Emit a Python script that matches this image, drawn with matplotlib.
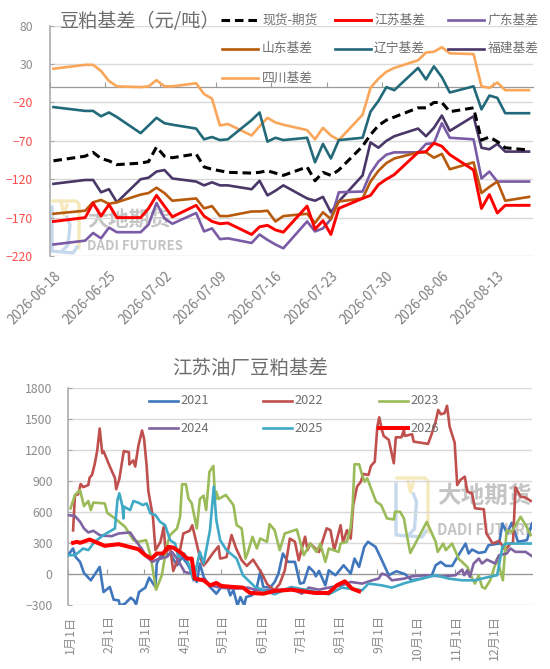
import matplotlib
matplotlib.use("Agg")
import matplotlib.pyplot as plt
import pandas as pd
from matplotlib.lines import Line2D

plt.rcParams["font.family"] = ["Noto Sans CJK SC", "DejaVu Sans"]

W, H = 550, 669
GREY = "#6E6E6E"
GRID = "#D9D9D9"
AXIS = "#A6A6A6"

# ── top chart: daily basis ────────────────────────────────
dates = pd.to_datetime([
    "2026-06-18", "2026-06-22", "2026-06-23", "2026-06-24", "2026-06-25", "2026-06-26",
    "2026-06-29", "2026-06-30", "2026-07-01", "2026-07-02", "2026-07-03",
    "2026-07-06", "2026-07-07", "2026-07-08", "2026-07-09", "2026-07-10",
    "2026-07-13", "2026-07-14", "2026-07-15", "2026-07-16", "2026-07-17",
    "2026-07-20", "2026-07-21", "2026-07-22", "2026-07-23", "2026-07-24",
    "2026-07-27", "2026-07-28", "2026-07-29", "2026-07-30", "2026-07-31",
    "2026-08-03", "2026-08-04", "2026-08-05", "2026-08-06", "2026-08-07",
    "2026-08-10", "2026-08-11", "2026-08-12", "2026-08-13", "2026-08-14",
    "2026-08-17",
])
spot = [-96, -90, -85, -93, -96, -101, -99, -97, -78, -90, -92, -87, -104, -107, -109, -111,
        -112, -111, -109, -112, -115, -104, -122, -111, -115, -108, -77, -62, -50, -43, -39,
        -27, -27, -20, -20, -32, -27, -69, -65, -71, -79, -82]
jiangsu = [-175, -170, -151, -168, -153, -170, -170, -158, -141, -155, -169, -154, -168, -175,
           -178, -177, -192, -182, -180, -186, -189, -155, -185, -174, -192, -158, -145, -141,
           -127, -120, -114, -85, -84, -73, -77, -88, -108, -158, -140, -164, -154, -154]
guangdong = [-205, -200, -190, -197, -183, -189, -189, -179, -151, -171, -178, -164, -188, -184,
             -198, -197, -203, -192, -199, -205, -210, -175, -188, -184, -172, -137, -136, -112,
             -97, -88, -85, -85, -74, -73, -47, -66, -68, -119, -110, -123, -123, -123]
shandong = [-165, -161, -150, -147, -152, -150, -140, -138, -131, -138, -148, -145, -158, -155,
            -168, -168, -162, -162, -161, -175, -168, -165, -177, -163, -172, -149, -145, -123,
            -109, -99, -93, -85, -85, -92, -87, -107, -98, -138, -130, -123, -148, -143]
liaoning = [-26, -31, -31, -38, -33, -39, -60, -50, -40, -47, -49, -54, -68, -65, -69, -68,
            -43, -33, -71, -66, -69, -66, -98, -74, -93, -69, -66, -32, -18, 0, -4, 25, 10,
            27, 13, -7, 1, -29, -11, -14, -34, -34]
fujian = [-126, -121, -121, -137, -133, -150, -120, -118, -110, -108, -119, -123, -128, -124,
          -128, -128, -133, -122, -141, -135, -128, -145, -148, -143, -163, -149, -115, -72,
          -79, -70, -64, -54, -64, -53, -37, -57, -38, -79, -81, -74, -84, -84]
sichuan = [24, 29, 29, 21, 8, 1, 0, 1, 9, 1, 1, 5, -9, -15, -50, -48, -63, -51, -40, -46, -49,
           -56, -68, -53, -63, -69, -36, -1, 11, 20, 25, 35, 45, 46, 52, 44, 43, 1, -1, 6, -4, -4]

top_yticks = [80, 30, -20, -70, -120, -170, -220]
top_labels = ["2026-06-18", "2026-06-25", "2026-07-02", "2026-07-09", "2026-07-16",
              "2026-07-23", "2026-07-30", "2026-08-06", "2026-08-13"]

# ── bottom chart: yearly basis, day of year / value ───────
days_2021 = [0, 4, 6, 9.5, 12.6, 18, 25, 28, 33, 36, 40, 41, 45, 49.5, 52, 53.7, 56, 61, 64, 69, 70,
             72.6, 80.5, 86, 90, 94, 98, 101.6, 104, 107, 112, 117, 121, 126, 128, 130.5, 133.7,
             136, 139, 140.5, 145, 149, 151.6, 154, 159.5, 163, 166, 169.5, 173.5, 179, 183, 186,
             190, 194, 195.5, 198, 203, 205.7, 211, 217.4, 223, 226, 229.6, 233.7, 236.6, 242.6,
             247.6, 253, 259, 266, 271, 279, 287, 290, 294, 298, 303, 308, 313.6, 316, 318.7,
             324, 329, 331.7, 340, 342.7, 346.3, 350, 355, 362, 366]
vals_2021 = [179, 244, 162, 114, 6, -65, 65, -179, -130, -253, -260, -309, -292, -234, -260, -300,
             -179, -136, -39, -130, 98, 163, 195, 81, 162, 98, 0, -81, 98, -32, -130, -195, -130,
             -135, -211, -162, -309, -228, -309, -228, -211, -130, 16, -130, -136, -81, 0, 195,
             114, 114, -97, -88, 65, 16, -26, 26, -114, 32, -16, 81, 0, 146, 65, 260, 309, 260,
             130, -16, 23, -6, -65, -49, -16, 81, 114, 75, 75, 179, 292, 195, 234, 201, 211, 276,
             292, 487, 390, 494, 309, 325, 487]
days_2022 = [4, 5.5, 8, 10, 12, 16, 17, 19, 21, 23, 25, 27, 28, 33, 37, 38, 40.5, 44, 48, 48.4, 51.5,
             53, 55.5, 58.4, 60, 62, 63.4, 67, 69, 73, 75.5, 77, 80.5, 83, 87, 91, 96, 98, 101.5,
             104, 107, 109.5, 115, 118.7, 120, 125, 129, 132.6, 137, 141, 146, 153, 157, 159.5,
             163, 167, 171, 175, 179, 182, 187, 189, 191, 198, 204, 207, 210, 215, 217, 220, 223,
             225, 228, 231, 233, 237, 239, 242, 244, 245.5, 247.6, 249, 253, 257, 258.6, 263, 265,
             265.6, 271.4, 272.7, 284, 286.6, 290, 292, 294, 297, 299, 301, 305, 307, 309.5, 313,
             315, 318.7, 321, 328, 330, 335, 340, 345, 349, 351, 353, 357, 361, 365]
vals_2022 = [420, 760, 770, 870, 840, 860, 930, 960, 1060, 1190, 1410, 1170, 1190, 1040, 930, 820,
             920, 1190, 1180, 1060, 1100, 1040, 1240, 1390, 1310, 1050, 800, 550, 228, 310, 455,
             195, 260, 26, 146, 390, 416, 470, 290, 160, 80, 115, 210, 265, 146, 160, 375, 245,
             130, 75, 136, 0, -100, -130, -160, -100, 32, 340, 310, 130, 358, 228, 292, 210, 440,
             422, 228, 470, 300, 422, 340, 667, 845, 893, 968, 958, 1046, 1088, 1428, 1518, 1396,
             1337, 1300, 1072, 1324, 1324, 1396, 1337, 1354, 1282, 1260, 1347, 1476, 1590, 1548,
             1558, 1630, 1428, 1272, 860, 910, 942, 796, 780, 635, 625, 390, 292, 318, 228, 292,
             300, 838, 748, 738, 706]
days_2023 = [2, 5.5, 9.5, 12.6, 16, 18, 20, 29, 31, 37, 45, 51.6, 55.5, 61.6, 65, 69.5, 74, 78, 80.5,
             86, 88.4, 90, 93, 95, 97.6, 101.6, 104, 107, 109, 111.6, 114.7, 116, 117, 118.7,
             124.5, 129, 130.5, 133, 137, 140, 142, 145.5, 149, 151.6, 157, 159, 163, 167, 171,
             180.5, 186, 191, 196, 199, 203, 205.7, 213.5, 215, 220, 223, 224.5, 226, 229.6, 232,
             234, 236, 240, 243, 247, 251.6, 257, 258, 262, 265, 267, 270, 283, 290, 291.6, 296,
             298, 303, 308, 315, 319, 321, 324, 326.6, 329, 333, 338.5, 343, 346, 350, 357, 361, 365]
vals_2023 = [634, 764, 812, 656, 705, 617, 690, 682, 590, 536, 455, 325, 309, 325, 179, -156, -16,
             276, 374, 439, 552, 868, 868, 730, 683, 439, 725, 757, 617, 990, 1046, 715, 796, 725,
             764, 690, 666, 471, 439, 146, 211, 358, 244, 341, 309, 481, 422, 228, 390, 429, 179,
             292, 211, 292, 114, 244, 211, 292, 309, 455, 650, 1062, 1062, 958, 893, 926, 796, 699,
             667, 536, 526, 601, 600, 536, 390, 200, 503, 309, 211, 292, 228, 292, 146, 65, -49,
             -97, -16, -130, -146, -65, 146, -65, 422, 406, 552, 471, 374]
days_2024 = [0, 5.5, 9.5, 12.6, 16, 20, 25, 29, 34.5, 40, 49, 54, 58, 62, 66.6, 70, 78, 82, 86, 92,
             97.6, 101.6, 107, 112, 120, 130.5, 142, 149, 163, 176, 184.5, 190, 198, 208, 216, 223,
             232, 240, 245, 247.6, 251.6, 255.5, 265, 271.4, 282, 295, 305.6, 311, 312.5, 315, 317,
             320, 324, 326.6, 330.5, 337, 340, 346, 349, 353, 361, 366]
vals_2024 = [569, 559, 504, 439, 400, 416, 374, 367, 364, 390, 400, 309, 244, 162, 114, 136, 162,
             211, 146, 16, 0, -65, -49, -114, -136, -146, -136, -162, -162, -146, -195, -136, -156,
             -130, -114, -81, -97, -65, -49, 0, -16, -65, -49, -26, -16, -26, -16, 39, -16, 32, -32,
             98, 146, 98, 136, 98, 179, 195, 244, 211, 211, 169]
days_2025 = [0, 5.5, 12, 16, 21, 28, 37, 39, 40.5, 43, 43.7, 44.2, 49, 51.6, 55.5, 59, 62, 65, 69, 72.6,
             76.6, 80.5, 84.5, 87, 91.6, 95, 99, 104, 107, 112, 115, 117, 120, 125, 133, 138, 147.6,
             163, 176, 205.6, 216, 232, 237, 247.6, 255.5, 266, 279, 290, 300.6, 311, 321, 332,
             338.5, 342.7, 345, 355.5, 365]
vals_2025 = [179, 179, 244, 228, 309, 374, 439, 715, 780, 650, 536, 650, 617, 705, 689, 666, 682,
             585, 569, 504, 471, 325, 292, 162, 195, 98, -65, 211, 98, 422, 845, 520, 325, 228,
             146, -16, -130, -201, -130, -201, -136, -162, -97, -114, -136, -91, -49, -16, -49,
             -65, -65, -32, -16, 260, 292, 292, 292]
days_2026 = [4, 7, 9.5, 17, 29, 40, 55.5, 61, 66, 70, 75, 79, 83, 90, 94, 97.6, 100, 107, 112, 117,
             121, 130.5, 138, 143.7, 154, 163, 176, 195, 205.6, 212, 218.4, 224, 229.6]
vals_2026 = [299, 309, 299, 331, 270, 286, 237, 179, 146, 195, 195, 260, 253, 195, 146, 146, -49,
             -65, -114, -91, -120, -130, -136, -188, -195, -169, -156, -188, -188, -114, -75, -146,
             -172]

bottom_yticks = [1800, 1500, 1200, 900, 600, 300, 0, -300]
month_days = [0, 31, 60, 91, 121, 152, 182, 213, 244, 274, 305, 335]
month_labels = ["1月1日", "2月1日", "3月1日", "4月1日", "5月1日", "6月1日", "7月1日",
                "8月1日", "9月1日", "10月1日", "11月1日", "12月1日"]


def fx(x):
    return x / W


def fy(y):
    return 1 - y / H


def make_axes(fig, left, right, top, bottom):
    ax = fig.add_axes([fx(left), fy(bottom), (right - left) / W, (bottom - top) / H])
    ax.patch.set_alpha(0)
    ax.spines[["top", "right"]].set_visible(False)
    ax.spines["left"].set_color(AXIS)
    ax.spines["left"].set_linewidth(1.1)
    ax.spines["bottom"].set_position(("data", 0))
    ax.spines["bottom"].set_color("#9A9A9A")
    ax.spines["bottom"].set_linewidth(0.9)
    ax.grid(True, axis="y", color=GRID, linewidth=1.0)
    ax.set_axisbelow(True)
    ax.tick_params(axis="y", length=3, color=AXIS, direction="in", labelsize=8.8, labelcolor="#8C8C8C")
    ax.tick_params(axis="x", which="major", length=3.5, color="#9A9A9A", direction="in", labelbottom=False)
    return ax


def legend_entry(fig, x0, x1, y, text, text_x, size, **style):
    fig.add_artist(Line2D([fx(x0), fx(x1)], [fy(y), fy(y)], transform=fig.transFigure, **style))
    fig.text(fx(text_x), fy(y), text, fontsize=size, color=GREY, va="center", ha="left")


def watermark(fig, ax, x0, x1, y0, y1, text_x, y_cn, y_en, size_cn, size_en):
    # logo outline, pale yellow on top and pale blue around the bottom left
    mid = (x0 + x1) / 2
    yellow = [(x0 + 2, y0 + 2), (x1 - 3, y0 + 2), (x1, y0 + 5), (x1, y1 - 6)]
    inner = [(mid - 4, y0 + 2), (mid - 1, y0 + 16), (mid + 2, y0 + 6)]
    blue = [(x0 + 1, y0 + 8), (x0 + 1, y1 - 3), (x1 - 6, y1 - 1), (x1 - 2, y1 - 7)]
    blue_in = [(mid + 2, y0 + 18), (mid + 5, y0 + 26), (mid + 3, y1 - 9), (mid - 3, y1 - 3)]
    for pts, col in ((yellow, "#F6E9BC"), (inner, "#F6E9BC"), (blue, "#C6D9EC"), (blue_in, "#C6D9EC")):
        fig.add_artist(Line2D([fx(p[0]) for p in pts], [fy(p[1]) for p in pts], transform=fig.transFigure,
                              color=col, linewidth=2.4, zorder=-1))
    ax.text(fx(text_x), fy(y_cn), "大地期货", transform=fig.transFigure, fontsize=size_cn, color="#C4C4C4",
            fontweight="bold", va="center", ha="left", clip_on=True, zorder=0.5)
    ax.text(fx(text_x), fy(y_en), "DADI FUTURES", transform=fig.transFigure, fontsize=size_en, color="#C4C4C4",
            fontweight="bold", va="center", ha="left", clip_on=True, zorder=0.5)


fig = plt.figure(figsize=(W / 100, H / 100), dpi=100, facecolor="white")

# ── top chart ─────────────────────────────────────────────
ax1 = make_axes(fig, 49.5, 533, 25.7, 256)
x_days = (dates - dates[0]).days
ax1.plot(x_days, sichuan, color="#F9A65A", linewidth=1.9, zorder=3)
ax1.plot(x_days, liaoning, color="#22697A", linewidth=1.9, zorder=3)
ax1.plot(x_days, fujian, color="#4A3768", linewidth=1.9, zorder=3)
ax1.plot(x_days, guangdong, color="#7A5BA6", linewidth=1.9, zorder=3)
ax1.plot(x_days, shandong, color="#B85A0C", linewidth=1.9, zorder=3)
ax1.plot(x_days, jiangsu, color="#FF0000", linewidth=2.1, zorder=4)
ax1.plot(x_days, spot, color="black", linewidth=2.2, dashes=(2.8, 1.6), zorder=5)
ax1.set_xlim(-0.5, 60.5)
ax1.set_ylim(-220, 80)
ax1.set_yticks(top_yticks)
ax1.tick_params(axis="y", pad=12)
for lab, val in zip(ax1.get_yticklabels(), top_yticks):
    lab.set_color("#FF4B4B" if val < 0 else "#8C8C8C")

# tick marks sit between the days, labels on the day itself and down below the plot
top_pos = [(pd.Timestamp(d) - dates[0]).days for d in top_labels]
ax1.set_xticks([p - 0.5 for p in top_pos])
ax1.set_xticks(top_pos, minor=True)
ax1.set_xticklabels(top_labels, minor=True, rotation=45, ha="right", va="top", rotation_mode="anchor",
                    fontsize=9.6, color="#7F7F7F")
ax1.tick_params(axis="x", which="minor", length=0, labelbottom=True, pad=131)

watermark(fig, ax1, 51, 79, 199, 254, 87, 219, 246, 15, 9.5)

fig.text(fx(60), fy(22), "豆粕基差（元/吨）", fontsize=13.8, color=GREY, va="center", ha="left")
size_leg = 9.2
legend_entry(fig, 221, 257, 20, "现货-期货", 262, size_leg, color="black", linewidth=2.2, dashes=(2.8, 1.6))
legend_entry(fig, 335, 371, 20, "江苏基差", 374, size_leg, color="#FF0000", linewidth=2.1)
legend_entry(fig, 448, 484, 20, "广东基差", 488, size_leg, color="#7A5BA6", linewidth=1.9)
legend_entry(fig, 222, 258, 48.5, "山东基差", 262, size_leg, color="#B85A0C", linewidth=1.9)
legend_entry(fig, 335, 371, 48.5, "辽宁基差", 374, size_leg, color="#22697A", linewidth=1.9)
legend_entry(fig, 448, 484, 48.5, "福建基差", 488, size_leg, color="#4A3768", linewidth=1.9)
legend_entry(fig, 222, 258, 78, "四川基差", 262, size_leg, color="#F9A65A", linewidth=1.9)

# ── bottom chart ──────────────────────────────────────────
ax2 = make_axes(fig, 68, 532, 388.3, 604.5)
ax2.plot(days_2021, vals_2021, color="#3F76BC", linewidth=1.9, zorder=3)
ax2.plot(days_2022, vals_2022, color="#C0504D", linewidth=1.9, zorder=3)
ax2.plot(days_2023, vals_2023, color="#9BBB59", linewidth=1.9, zorder=3)
ax2.plot(days_2024, vals_2024, color="#8064A2", linewidth=1.9, zorder=3)
ax2.plot(days_2025, vals_2025, color="#3FA9C6", linewidth=1.9, zorder=3)
ax2.plot(days_2026, vals_2026, color="#FF0000", linewidth=2.9, zorder=4)
ax2.set_xlim(0, 366)
ax2.set_ylim(-300, 1800)
ax2.set_yticks(bottom_yticks)
ax2.tick_params(axis="y", pad=11)
ax2.set_xticks(month_days)
ax2.set_xticks([d + 1.5 for d in month_days], minor=True)
ax2.set_xticklabels(month_labels, minor=True, rotation=90, ha="center", va="top", fontsize=8.8, color="#8C8C8C")
ax2.tick_params(axis="x", which="minor", length=0, labelbottom=True, pad=30)

watermark(fig, ax2, 395, 428, 476, 538, 437, 496, 530, 17, 10.5)

fig.text(fx(172), fy(368), "江苏油厂豆粕基差", fontsize=14, color=GREY, va="center", ha="left")
size_leg2 = 9.2
legend_entry(fig, 149, 178, 400.7, "2021", 180, size_leg2, color="#3F76BC", linewidth=1.9)
legend_entry(fig, 263, 292, 400.7, "2022", 294, size_leg2, color="#C0504D", linewidth=1.9)
legend_entry(fig, 379, 408, 400.7, "2023", 410, size_leg2, color="#9BBB59", linewidth=1.9)
legend_entry(fig, 149, 178, 428, "2024", 180, size_leg2, color="#8064A2", linewidth=1.9)
legend_entry(fig, 263, 292, 428, "2025", 294, size_leg2, color="#3FA9C6", linewidth=1.9)
legend_entry(fig, 379, 408, 428, "2026", 410, size_leg2, color="#FF0000", linewidth=2.9)

fig.savefig("out.png", dpi=100, facecolor="white")
plt.close(fig)
